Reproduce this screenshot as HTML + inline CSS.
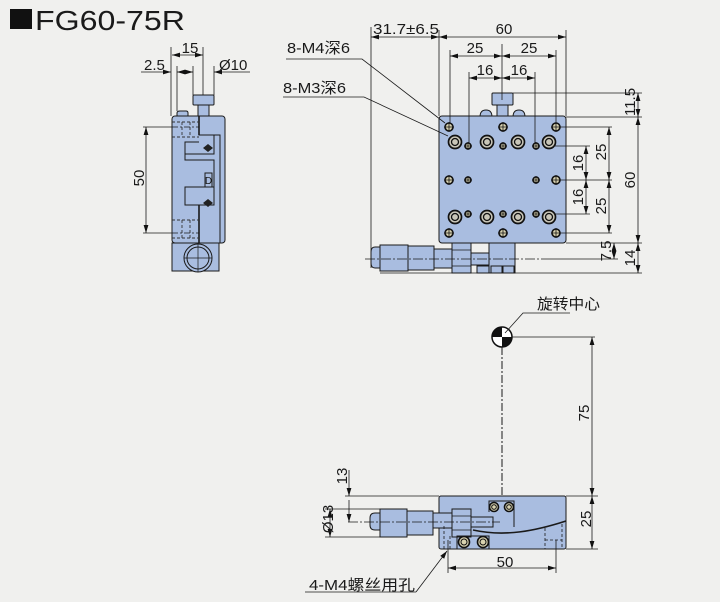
<!DOCTYPE html>
<html><head><meta charset="utf-8"><style>
html,body{margin:0;padding:0;background:#f0f0ee;}
svg{display:block;}
text{font-family:"Liberation Sans","Noto Sans CJK SC",sans-serif;fill:#1a1a1a;}
</style></head><body>
<svg width="720" height="602" viewBox="0 0 720 602" xmlns="http://www.w3.org/2000/svg">
<defs>
<marker id="a" markerWidth="8" markerHeight="6" refX="8" refY="3" orient="auto-start-reverse" markerUnits="userSpaceOnUse"><path d="M0,0.6 L8,3 L0,5.4z" fill="#111"/></marker>
</defs>
<rect width="720" height="602" fill="#f0f0ee"/>

<!-- Title -->
<rect x="10" y="9" width="22" height="20" fill="#111"/>
<text x="35" y="30" font-size="28" textLength="150" lengthAdjust="spacingAndGlyphs">FG60-75R</text>

<!-- ============ LEFT SIDE VIEW ============ -->
<g stroke="#1a1a1a" stroke-width="1" fill="#a9bde0">
  <rect x="193" y="95" width="21" height="10" rx="1"/>
  <rect x="198" y="105" width="11" height="12"/>
  <path d="M177,117 V113 Q177,111 180,111 H186 Q188,111 188,113 V117z"/>
  <rect x="172" y="243" width="47" height="28"/>
  <rect x="172" y="116" width="53" height="127" rx="3"/>
</g>
<g stroke="#1a1a1a" stroke-width="1" fill="none">
  <path d="M199,116 V135 H214 V154 H185 V142 H199" />
  <path d="M214,135 H220 V243"/>
  <path d="M199,160 H214 V187 H199"/>
  <path d="M185,187 H214 V205 H185z"/>
  <path d="M199,205 V243" stroke-width="1.6"/>
  <path d="M199,116 V135" stroke-width="1.6"/>
  <path d="M185,142 V160 H199"/>
  <rect x="205" y="173" width="7" height="14"/>
  <circle cx="198" cy="258" r="14" fill="#a9bde0"/>
  <circle cx="198" cy="258" r="11"/>
  <path d="M184,258 H212 M198,244 V272" stroke-width="0.7"/>
</g>
<text x="208.5" y="184" font-size="10" text-anchor="middle">D</text>
<path d="M203,148 l5,4 l5,-4 l-5,-4z M203,203 l5,4 l5,-4 l-5,-4z" fill="#222"/>
<g stroke="#333" stroke-width="0.9" stroke-dasharray="3,2" fill="none">
  <path d="M172,122 H199 M172,137 H199 M172,220 H199 M172,238 H199 M182,122 V137 M190,122 V137 M182,220 V238 M190,220 V238"/>
</g>
<!-- left view dims -->
<g stroke="#1a1a1a" stroke-width="0.8" fill="none">
  <path d="M171,47 V116 M177,66 V111 M203,47 V95 M193,66 V95 M214,66 V95"/>
  <line x1="172" y1="55" x2="203" y2="55" marker-start="url(#a)" marker-end="url(#a)"/>
  <line x1="141" y1="72" x2="171" y2="72" marker-end="url(#a)"/>
  <line x1="185" y1="72" x2="177" y2="72" marker-end="url(#a)"/>
  <line x1="185" y1="72" x2="193" y2="72" marker-end="url(#a)"/>
  <line x1="250" y1="72" x2="214" y2="72" marker-end="url(#a)"/>
  <path d="M143,127 H172 M143,233 H172"/>
  <path d="M172,127 H199 M172,233 H199" stroke-dasharray="6,2,2,2"/>
  <line x1="146" y1="127" x2="146" y2="233" marker-start="url(#a)" marker-end="url(#a)"/>
</g>
<text x="190" y="53" font-size="15" text-anchor="middle">15</text>
<text x="144" y="70" font-size="15">2.5</text>
<text x="219" y="70" font-size="15">Ø10</text>
<text transform="translate(144,178) rotate(-90)" font-size="15" text-anchor="middle">50</text>

<!-- ============ TOP VIEW ============ -->
<g stroke="#1a1a1a" stroke-width="1" fill="#a9bde0">
  <rect x="492" y="93" width="21" height="12" rx="1"/>
  <rect x="497" y="105" width="11" height="12"/>
  <path d="M480,117 Q480,110 486,110 Q492,110 492,117z"/>
  <path d="M513,117 Q513,110 519,110 Q525,110 525,117z"/>
  <!-- micrometer -->
  <rect x="489" y="243" width="26" height="30"/>
  <rect x="477" y="266" width="12" height="7"/>
  <rect x="491" y="266" width="11" height="7"/>
  <rect x="503" y="266" width="11" height="7"/>
  <rect x="471" y="253" width="18" height="12"/>
  <rect x="452" y="243" width="19" height="30"/>
  <rect x="434" y="249" width="18" height="19"/>
  <rect x="408" y="246" width="26" height="24"/>
  <rect x="380" y="245" width="28" height="26"/>
  <path d="M380,247 H375 Q371,247 371,252 V263 Q371,268 375,268 H380z"/>
  <rect x="439" y="116" width="127" height="127" rx="3"/>
</g>
<path d="M452,250 H471 M452,266 H471" stroke="#1a1a1a" stroke-width="0.7"/>
<!-- holes top view -->
<g>
  <g stroke="#111" stroke-width="1.6" fill="#d9d3b0">
    <circle cx="449" cy="127" r="4"/><circle cx="503" cy="127" r="4"/><circle cx="556" cy="127" r="4"/>
    <circle cx="449" cy="180" r="4"/><circle cx="556" cy="180" r="4"/>
    <circle cx="449" cy="233" r="4"/><circle cx="503" cy="233" r="4"/><circle cx="556" cy="233" r="4"/>
    <circle cx="468" cy="146" r="3"/><circle cx="503" cy="146" r="3"/><circle cx="536" cy="146" r="3"/>
    <circle cx="468" cy="180" r="3"/><circle cx="536" cy="180" r="3"/>
    <circle cx="468" cy="214" r="3"/><circle cx="503" cy="214" r="3"/><circle cx="536" cy="214" r="3"/>
  </g>
  <g stroke="#111" stroke-width="0.8">
    <path d="M444,127h10M449,122v10 M498,127h10M503,122v10 M551,127h10M556,122v10 M444,180h10M449,175v10 M551,180h10M556,175v10 M444,233h10M449,228v10 M498,233h10M503,228v10 M551,233h10M556,228v10"/>
    <path d="M464,146h8M468,142v8 M499,146h8M503,142v8 M532,146h8M536,142v8 M464,180h8M468,176v8 M532,180h8M536,176v8 M464,214h8M468,210v8 M499,214h8M503,210v8 M532,214h8M536,210v8"/>
  </g>
  <g stroke="#111" stroke-width="1.7" fill="#c9c6b8">
    <circle cx="455" cy="142" r="6.5"/><circle cx="487" cy="142" r="6.5"/><circle cx="518" cy="142" r="6.5"/><circle cx="549" cy="142" r="6.5"/>
    <circle cx="455" cy="217" r="6.5"/><circle cx="487" cy="217" r="6.5"/><circle cx="518" cy="217" r="6.5"/><circle cx="549" cy="217" r="6.5"/>
  </g>
  <g stroke="#111" stroke-width="1.3" fill="none">
    <circle cx="455" cy="142" r="3.5"/><circle cx="487" cy="142" r="3.5"/><circle cx="518" cy="142" r="3.5"/><circle cx="549" cy="142" r="3.5"/>
    <circle cx="455" cy="217" r="3.5"/><circle cx="487" cy="217" r="3.5"/><circle cx="518" cy="217" r="3.5"/><circle cx="549" cy="217" r="3.5"/>
  </g>
</g>
<!-- top view dims -->
<g stroke="#1a1a1a" stroke-width="0.8" fill="none">
  <path d="M371,27 V268 M439,30 V116 M566,30 V116"/>
  <line x1="371" y1="37" x2="439" y2="37" marker-start="url(#a)" marker-end="url(#a)"/>
  <line x1="439" y1="37" x2="566" y2="37" marker-start="url(#a)" marker-end="url(#a)"/>
  <path d="M450,50 V123 M556,50 V123 M469,72 V143 M535,72 V143"/>
  <line x1="450" y1="56" x2="502" y2="56" marker-start="url(#a)" marker-end="url(#a)"/>
  <line x1="502" y1="56" x2="556" y2="56" marker-start="url(#a)" marker-end="url(#a)"/>
  <line x1="469" y1="78" x2="502" y2="78" marker-start="url(#a)" marker-end="url(#a)"/>
  <line x1="502" y1="78" x2="535" y2="78" marker-start="url(#a)" marker-end="url(#a)"/>
  <path d="M502,44 V100"/>
  <path d="M513,93 H642 M566,117 H642 M560,127 H612 M555,146 H590 M560,180 H612 M555,214 H590 M560,233 H612 M566,243 H642 M545,259 H618 M380,273 H642"/>
  <line x1="638" y1="93" x2="638" y2="117" marker-start="url(#a)" marker-end="url(#a)"/>
  <line x1="638" y1="117" x2="638" y2="243" marker-start="url(#a)" marker-end="url(#a)"/>
  <line x1="638" y1="243" x2="638" y2="273" marker-start="url(#a)" marker-end="url(#a)"/>
  <line x1="609" y1="127" x2="609" y2="180" marker-start="url(#a)" marker-end="url(#a)"/>
  <line x1="609" y1="180" x2="609" y2="233" marker-start="url(#a)" marker-end="url(#a)"/>
  <line x1="586" y1="146" x2="586" y2="180" marker-start="url(#a)" marker-end="url(#a)"/>
  <line x1="586" y1="180" x2="586" y2="214" marker-start="url(#a)" marker-end="url(#a)"/>
  <line x1="614" y1="243" x2="614" y2="259" marker-start="url(#a)" marker-end="url(#a)"/>
  <path d="M365,259 H545" stroke-dasharray="10,2,2,2"/>
  <path d="M286,59 H362 L445,123"/>
  <path d="M283,97 H364 L448,136"/>
</g>
<text x="373" y="34" font-size="15" textLength="66" lengthAdjust="spacingAndGlyphs">31.7±6.5</text>
<text x="504" y="34" font-size="15" text-anchor="middle">60</text>
<text x="475" y="53" font-size="15" text-anchor="middle">25</text>
<text x="529" y="53" font-size="15" text-anchor="middle">25</text>
<text x="485" y="75" font-size="15" text-anchor="middle">16</text>
<text x="519" y="75" font-size="15" text-anchor="middle">16</text>
<text x="287" y="53" font-size="15" textLength="63" lengthAdjust="spacingAndGlyphs">8-M4深6</text>
<text x="283" y="93" font-size="15" textLength="63" lengthAdjust="spacingAndGlyphs">8-M3深6</text>
<text transform="translate(635,102) rotate(-90)" font-size="15" text-anchor="middle">11.5</text>
<text transform="translate(635,180) rotate(-90)" font-size="15" text-anchor="middle">60</text>
<text transform="translate(635,258) rotate(-90)" font-size="15" text-anchor="middle">14</text>
<text transform="translate(606,152) rotate(-90)" font-size="15" text-anchor="middle">25</text>
<text transform="translate(606,206) rotate(-90)" font-size="15" text-anchor="middle">25</text>
<text transform="translate(583,163) rotate(-90)" font-size="15" text-anchor="middle">16</text>
<text transform="translate(583,197) rotate(-90)" font-size="15" text-anchor="middle">16</text>
<text transform="translate(611,251) rotate(-90)" font-size="15" text-anchor="middle">7.5</text>

<!-- ============ FRONT VIEW ============ -->
<g stroke="#1a1a1a" stroke-width="1" fill="#a9bde0">
  <rect x="439" y="496" width="127" height="53" rx="2"/>
  <rect x="433" y="513" width="19" height="15"/>
  <rect x="407" y="511" width="26" height="24"/>
  <rect x="380" y="509" width="27" height="28"/>
  <path d="M380,513 H375 Q370,513 370,518 V525 Q370,530 375,530 H380z"/>
  <rect x="471" y="517" width="22" height="10"/>
  <rect x="452" y="509" width="19" height="28"/>
</g>
<path d="M452,516 H471 M452,530 H471" stroke="#1a1a1a" stroke-width="0.7" fill="none"/>
<g stroke="#1a1a1a" fill="none">
  <path d="M473,530 C505,537 535,531 566,521" stroke-width="1.6"/>
  <path d="M489,512 V501 H514 V527" stroke-width="1"/>
  <rect x="457" y="536" width="32" height="13" stroke-width="1"/>
  <path d="M444,526 V549 M450,536 V549 M545,528 V549 M562,524 V549 M545,540 H562" stroke-dasharray="3,2" stroke-width="0.8"/>
</g>
<g stroke="#111" stroke-width="1.6" fill="#d9d3b0">
  <circle cx="494" cy="507" r="4.5"/><circle cx="509" cy="507" r="4.5"/>
  <circle cx="464" cy="542" r="5.5"/><circle cx="483" cy="542" r="5.5"/>
</g>
<g stroke="#111" stroke-width="1" fill="none">
  <circle cx="494" cy="507" r="2.3"/><circle cx="509" cy="507" r="2.3"/>
  <circle cx="464" cy="542" r="3"/><circle cx="483" cy="542" r="3"/>
</g>
<circle cx="502" cy="337" r="10" fill="#fff" stroke="#111" stroke-width="1.5"/>
<path d="M502,337 L492,337 A10,10 0 0,1 502,327z M502,337 L512,337 A10,10 0 0,1 502,347z" fill="#111"/>
<g stroke="#1a1a1a" stroke-width="0.8" fill="none">
  <path d="M512,337 H595"/>
  <path d="M505,333 L523,313 H570"/>
  <path d="M502,347 V496" stroke-dasharray="8,2,2,2" stroke-width="1"/>
  <path d="M566,496 H598 M566,549 H598"/>
  <line x1="592" y1="337" x2="592" y2="496" marker-start="url(#a)" marker-end="url(#a)"/>
  <line x1="592" y1="496" x2="592" y2="549" marker-start="url(#a)" marker-end="url(#a)"/>
  <path d="M345,496 H439"/>
  <path d="M348,522 H500" stroke-dasharray="10,2,2,2"/>
  <line x1="349" y1="470" x2="349" y2="496" marker-end="url(#a)"/>
  <line x1="349" y1="500" x2="349" y2="522" marker-end="url(#a)"/>
  <path d="M325,509 H380 M325,537 H380"/>
  <line x1="330" y1="509" x2="330" y2="537" marker-start="url(#a)" marker-end="url(#a)"/>
  <path d="M448,540 V573 M556,540 V573"/>
  <line x1="448" y1="568" x2="556" y2="568" marker-start="url(#a)" marker-end="url(#a)"/>
  <line x1="305" y1="592" x2="416" y2="592"/>
  <line x1="416" y1="592" x2="447" y2="551" marker-end="url(#a)"/>
</g>
<text x="537" y="309" font-size="15" textLength="63" lengthAdjust="spacingAndGlyphs">旋转中心</text>
<text transform="translate(589,413) rotate(-90)" font-size="15" text-anchor="middle">75</text>
<text transform="translate(591,519) rotate(-90)" font-size="15" text-anchor="middle">25</text>
<text transform="translate(347,476) rotate(-90)" font-size="15" text-anchor="middle">13</text>
<text transform="translate(333,519) rotate(-90)" font-size="15" text-anchor="middle">Ø13</text>
<text x="505" y="567" font-size="15" text-anchor="middle">50</text>
<text x="309" y="590" font-size="15" textLength="106" lengthAdjust="spacingAndGlyphs">4-M4螺丝用孔</text>
</svg>
</body></html>
